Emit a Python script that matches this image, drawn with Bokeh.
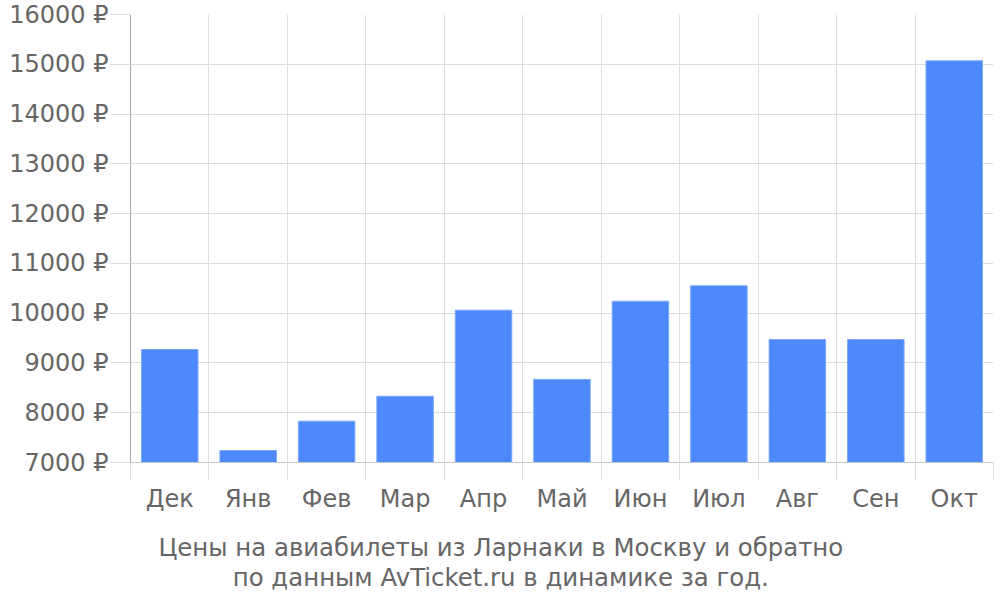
from bokeh.plotting import figure
from bokeh.models import Range1d, FixedTicker, PrintfTickFormatter, LinearAxis
from bokeh.embed import file_html
from bokeh.resources import INLINE

# average ticket price per month, roubles
months = ["Дек", "Янв", "Фев", "Мар", "Апр", "Май", "Июн", "Июл", "Авг", "Сен", "Окт"]
prices = [9270, 7240, 7830, 8330, 10060, 8670, 10240, 10550, 9470, 9470, 15070]
y_ticks = [7000, 8000, 9000, 10000, 11000, 12000, 13000, 14000, 15000, 16000]
title_lines = ["Цены на авиабилеты из Ларнаки в Москву и обратно",
               "по данным AvTicket.ru в динамике за год."]

FONT = "DejaVu Sans"
TEXT = "#666666"
GRID = "#dddddd"
W, H = 996, 596

centers = [i + 0.5 for i in range(len(months))]
bounds = list(range(len(months) + 1))

p = figure(width=W, height=H, output_backend="svg", toolbar_location=None, tools="",
           x_range=Range1d(0, len(months)), y_range=Range1d(y_ticks[0], y_ticks[-1]),
           min_border_left=130, min_border_right=3, min_border_top=14, min_border_bottom=H - 462)
p.outline_line_color = None
p.background_fill_color = "white"

p.vbar(x=centers, top=prices, bottom=y_ticks[0], width=0.72,
       fill_color="#4d89fa", line_color="#7ba7fb", line_width=1)

# y axis
p.yaxis.ticker = FixedTicker(ticks=y_ticks)
p.yaxis.formatter = PrintfTickFormatter(format="%d ₽")
p.yaxis.major_tick_out = 20
p.yaxis.major_tick_in = 0
p.yaxis.major_tick_line_color = GRID
p.yaxis.minor_tick_line_color = None
p.yaxis.axis_line_color = "#aaaaaa"
p.yaxis.major_label_standoff = 2
p.yaxis.major_label_text_font = FONT
p.yaxis.major_label_text_font_size = "24px"
p.yaxis.major_label_text_color = TEXT
p.ygrid.ticker = FixedTicker(ticks=y_ticks)
p.ygrid.grid_line_color = GRID

# x axis: labels in the middle, ticks on category bounds
p.xaxis.ticker = FixedTicker(ticks=centers, minor_ticks=bounds)
p.xaxis.major_label_overrides = {c: m for c, m in zip(centers, months)}
p.xaxis.major_tick_out = 18
p.xaxis.major_tick_in = 0
p.xaxis.major_tick_line_color = None
p.xaxis.minor_tick_out = 18
p.xaxis.minor_tick_in = 0
p.xaxis.minor_tick_line_color = GRID
p.xaxis.axis_line_color = "#c8c8c8"
p.xaxis.major_label_standoff = 4
p.xaxis.major_label_text_font = FONT
p.xaxis.major_label_text_font_size = "24px"
p.xaxis.major_label_text_color = TEXT
p.xgrid.ticker = FixedTicker(ticks=bounds)
p.xgrid.grid_line_color = GRID

# caption under the chart: one bare axis per line, centred on the page (x=4.72 ~ 500px)
cap_x = 4.72
for line, gap in zip(title_lines, [17, -2]):
    cap = LinearAxis(ticker=FixedTicker(ticks=[cap_x]), major_label_overrides={cap_x: line},
                     axis_line_color=None, major_tick_line_color=None, minor_tick_line_color=None,
                     major_tick_out=0, major_tick_in=0, major_label_standoff=gap,
                     major_label_text_font=FONT, major_label_text_font_size="24.4px",
                     major_label_text_color=TEXT)
    p.add_layout(cap, "below")

open("out.html", "w").write(file_html(p, INLINE))
